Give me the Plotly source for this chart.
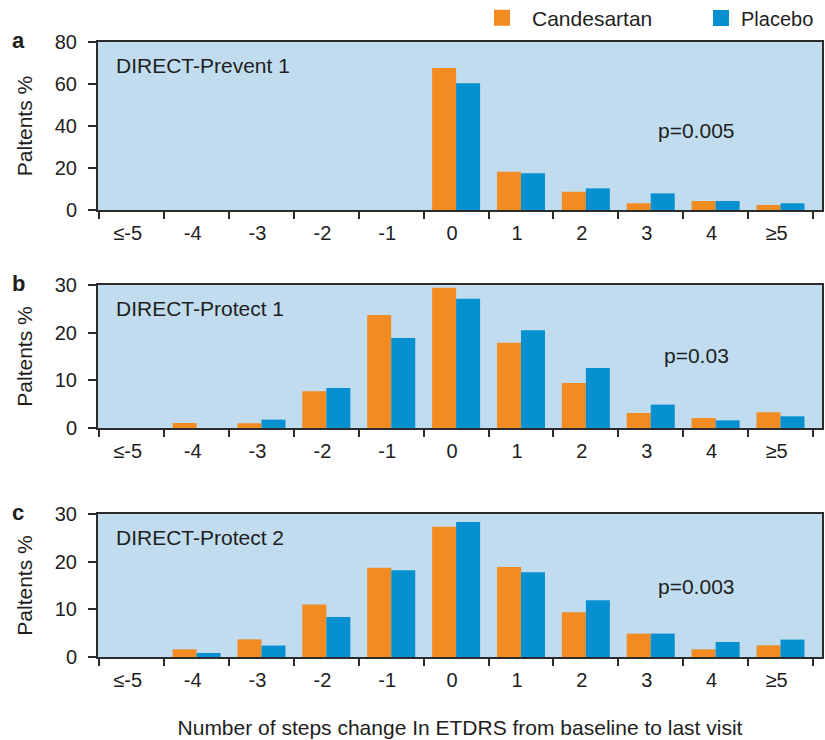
import plotly.graph_objects as go

W, H = 825, 740

categories = ["≤-5", "-4", "-3", "-2", "-1", "0", "1", "2", "3", "4", "≥5"]

# Panel a: DIRECT-Prevent 1
prevent1_candesartan = [0, 0, 0, 0, 0, 67.6, 18.2, 8.7, 3.2, 4.3, 2.4]
prevent1_placebo = [0, 0, 0, 0, 0, 60.3, 17.5, 10.3, 7.9, 4.3, 3.2]

# Panel b: DIRECT-Protect 1
protect1_candesartan = [0, 1.05, 1.0, 7.7, 23.7, 29.4, 17.9, 9.45, 3.15, 2.1, 3.3]
protect1_placebo = [0, 0, 1.75, 8.4, 18.9, 27.1, 20.5, 12.6, 4.9, 1.6, 2.45]

# Panel c: DIRECT-Protect 2
protect2_candesartan = [0, 1.6, 3.7, 11.0, 18.7, 27.3, 18.9, 9.4, 4.9, 1.6, 2.45]
protect2_placebo = [0, 0.85, 2.4, 8.4, 18.2, 28.3, 17.8, 11.9, 4.9, 3.15, 3.65]

panel_letters = ["a", "b", "c"]
panel_titles = ["DIRECT-Prevent 1", "DIRECT-Protect 1", "DIRECT-Protect 2"]
p_values = ["p=0.005", "p=0.03", "p=0.003"]
y_max = [80, 30, 30]
y_dtick = [20, 10, 10]

ORANGE = "#f28b22"
BLUE = "#0790d0"
BG = "#c0dcee"
LINE = "#2b2b2b"
TXT = "#1e1e1e"
FONT = "Liberation Sans, Arial, sans-serif"

# pixel geometry of panels (top, bottom)
x_left, x_right = 98, 822
panels_px = [(42, 210), (285, 428), (514, 657)]


def fx(px):
    return px / W


def fy(py):
    return 1 - py / H


fig = go.Figure()

series = [
    (prevent1_candesartan, prevent1_placebo),
    (protect1_candesartan, protect1_placebo),
    (protect2_candesartan, protect2_placebo),
]

for i, (cand, plac) in enumerate(series):
    xa = "x" if i == 0 else f"x{i+1}"
    ya = "y" if i == 0 else f"y{i+1}"
    fig.add_trace(go.Bar(x=categories, y=cand, name="Candesartan",
                         marker=dict(color=ORANGE, line=dict(width=0)),
                         xaxis=xa, yaxis=ya, showlegend=False))
    fig.add_trace(go.Bar(x=categories, y=plac, name="Placebo",
                         marker=dict(color=BLUE, line=dict(width=0)),
                         xaxis=xa, yaxis=ya, showlegend=False))

# legend entries
fig.add_trace(go.Scatter(x=[None], y=[None], mode="markers", name="Candesartan", legend="legend",
                         marker=dict(symbol="square", size=16, color=ORANGE, line=dict(width=0))))
fig.add_trace(go.Scatter(x=[None], y=[None], mode="markers", name="Placebo", legend="legend2",
                         marker=dict(symbol="square", size=16, color=BLUE, line=dict(width=0))))

layout = dict(
    width=W, height=H,
    template="none",
    margin=dict(l=0, r=0, t=0, b=0, autoexpand=False),
    paper_bgcolor="white",
    plot_bgcolor=BG,
    barmode="group",
    bargap=0.26,
    bargroupgap=0,
    font=dict(family=FONT, size=20, color=TXT),
    legend=dict(orientation="h", x=fx(472), xanchor="left", y=fy(18), yanchor="middle",
                font=dict(size=21, color=TXT), bgcolor="rgba(0,0,0,0)", itemwidth=50),
    legend2=dict(orientation="h", x=fx(701), xanchor="left", y=fy(18), yanchor="middle",
                 font=dict(size=20, color=TXT), bgcolor="rgba(0,0,0,0)", itemwidth=30),
    annotations=[],
)

for i in range(3):
    top, bot = panels_px[i]
    xk = "xaxis" if i == 0 else f"xaxis{i+1}"
    yk = "yaxis" if i == 0 else f"yaxis{i+1}"
    ya = "y" if i == 0 else f"y{i+1}"
    xa = "x" if i == 0 else f"x{i+1}"
    layout[xk] = dict(
        domain=[fx(x_left), fx(x_right)],
        anchor=ya,
        type="category",
        categoryorder="array", categoryarray=categories,
        range=[-0.52, 10.64],
        tickson="boundaries",
        ticks="outside", ticklen=7, tickwidth=2, tickcolor=LINE,
        showline=True, linecolor=LINE, linewidth=2, mirror=True,
        showgrid=False, zeroline=False,
        tickfont=dict(size=20, color=TXT),
        ticklabelshift=-4,
        ticklabelstandoff=4,
        automargin=False,
    )
    layout[yk] = dict(
        domain=[fy(bot), fy(top)],
        anchor=xa,
        range=[0, y_max[i]],
        dtick=y_dtick[i], tick0=0,
        ticks="outside", ticklen=8, tickwidth=2, tickcolor=LINE,
        showline=True, linecolor=LINE, linewidth=2, mirror=True,
        showgrid=False, zeroline=False,
        tickfont=dict(size=20, color=TXT),
        ticklabelstandoff=7,
        title=dict(text="Paltents %", font=dict(size=21, color=TXT), standoff=16),
        automargin=False,
    )
    # panel letter
    layout["annotations"].append(dict(
        text=f"<b>{panel_letters[i]}</b>", x=fx(18), y=fy(top - 2), xref="paper", yref="paper",
        xanchor="center", yanchor="middle", showarrow=False, font=dict(size=22, color=TXT)))
    # dataset title
    layout["annotations"].append(dict(
        text=panel_titles[i], x=fx(114), y=fy(top + 23), xref="paper", yref="paper",
        xanchor="left", yanchor="middle", showarrow=False, font=dict(size=21, color=TXT)))
    # p value
    p_y = [130, 355, 586][i]
    layout["annotations"].append(dict(
        text=p_values[i], x=fx(696), y=fy(p_y), xref="paper", yref="paper",
        xanchor="center", yanchor="middle", showarrow=False, font=dict(size=21, color=TXT)))

layout["xaxis3"]["title"] = dict(text="Number of steps change In ETDRS from baseline to last visit",
                                 font=dict(size=21, color=TXT), standoff=30)

fig.update_layout(**layout)
fig.write_html("out.html",
               config={"displayModeBar": False},
               post_script="document.body.style.margin='0';document.body.style.overflow='hidden';")
